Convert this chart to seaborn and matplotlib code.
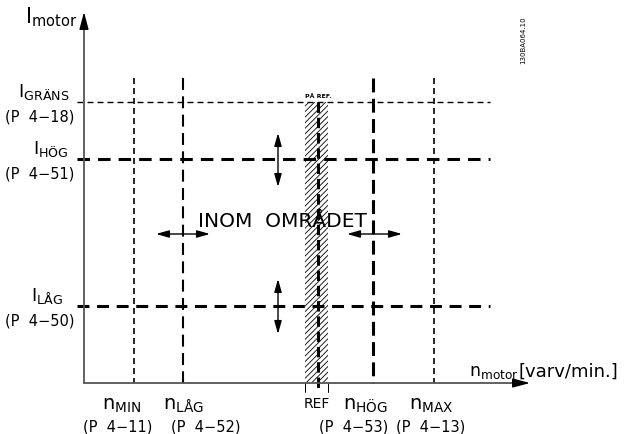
import matplotlib
matplotlib.use('Agg')
import matplotlib.pyplot as plt
import seaborn as sns

# speed positions along the n axis (arbitrary diagram units, origin at the axis corner)
speed_names = ['MIN', 'LÅG', 'HÖG', 'MAX']
speed_pos = [50, 99, 289, 350]
speed_params = ['(P  4−11)', '(P  4−52)', '(P  4−53)', '(P  4−13)']
ref_pos = 234
ref_band = [221, 244]

# current levels along the I axis
current_names = ['GRÄNS', 'HÖG', 'LÅG']
current_pos = [281, 224, 77]
current_params = ['(P  4−18)', '(P  4−51)', '(P  4−50)']

# arrows showing the allowed range around the limits
h_arrow_spans = [(72, 126), (263, 318)]
v_arrow_spans = [(196, 250), (49, 104)]

sns.set_theme(style='white')
plt.rcParams['font.family'] = ['DejaVu Sans']
plt.rcParams['text.color'] = 'black'
plt.rcParams['lines.scale_dashes'] = False
plt.rcParams['hatch.linewidth'] = 0.6

fig = plt.figure(figsize=(6.33, 4.35), dpi=100)
ax = fig.add_axes([0, 0, 1, 1])
ax.set_xlim(-84, 549)
ax.set_ylim(-51, 384)
ax.axis('off')

# line styles (width in pt, dash pattern in pt)
speed_lw = [1.2, 1.5, 2.2, 1.2]
speed_dash = [(4.3, 2.9), (8.6, 4.6), (10, 4.6), (4.3, 2.9)]
current_lw = [1.0, 2.2, 2.2]
current_dash = [(4.3, 2.9), (9, 5.8), (8.6, 5.5)]

# hatched "on reference" band
ax.fill_betweenx([0, current_pos[0]], ref_band[0], ref_band[1],
                 facecolor='white', edgecolor='black', hatch='//////', linewidth=0, zorder=1)
for xb in ref_band:
    ax.plot([xb, xb], [0, -9], color='black', lw=0.7, zorder=3)
ax.plot([ref_pos, ref_pos], [281, -9], color='black', lw=2.2,
        linestyle=(0, (7.5, 3.5)), zorder=3)
ax.text(ref_pos, 287, 'PÅ REF.', ha='center', va='center', fontsize=4.5, fontweight='bold')

for x, lw, ds in zip(speed_pos, speed_lw, speed_dash):
    ax.plot([x, x], [305, 0], color='black', lw=lw, linestyle=(0, ds), zorder=2)
for y, lw, ds in zip(current_pos, current_lw, current_dash):
    ax.plot([-7, 406], [y, y], color='black', lw=lw, linestyle=(0, ds), zorder=2)

# axes with arrow heads
ax.plot([0, 0], [0, 358], color='#555555', lw=1.3, zorder=4)
ax.plot([0, 432], [0, 0], color='#555555', lw=1.3, zorder=4)
head = dict(arrowstyle='-|>,head_length=0.75,head_width=0.2', color='black',
            lw=1.0, mutation_scale=14, shrinkA=0, shrinkB=0)
ax.annotate('', xy=(0, 371), xytext=(0, 355), arrowprops=head, zorder=5)
ax.annotate('', xy=(446, 0), xytext=(430, 0), arrowprops=head, zorder=5)

dbl = dict(arrowstyle='<|-|>,head_length=0.6,head_width=0.17', color='black',
           lw=1.0, mutation_scale=13, shrinkA=0, shrinkB=0)
for x0, x1 in h_arrow_spans:
    ax.annotate('', xy=(x0, 149), xytext=(x1, 149), arrowprops=dbl)
for y0, y1 in v_arrow_spans:
    ax.annotate('', xy=(194, y0), xytext=(194, y1), arrowprops=dbl)

ax.text(198, 162, 'INOM  OMRÅDET', ha='center', va='center', fontsize=14.5, zorder=6)

# axis titles
ax.text(-7, 355, r'$\mathregular{I_{motor}}$', ha='right', va='bottom', fontsize=15)
ax.text(385, 3, r'$\mathregular{n_{motor}}$', ha='left', va='bottom', fontsize=12.5)
ax.text(435, 3, '[varv/min.]', ha='left', va='bottom', fontsize=13)

# current labels
label_right = [-15, -15, -21]
for y, name, par, xr in zip(current_pos, current_names, current_params, label_right):
    ax.text(xr, y + 1, r'$\mathregular{I_{%s}}$' % name, ha='right', va='bottom', fontsize=13)
    ax.text(-44, y - 14, par, ha='center', va='center', fontsize=10.5)

# speed labels
name_x = [38, 99, 281, 347]
par_x = [34, 122, 270, 347]
for nx, px_, name, par in zip(name_x, par_x, speed_names, speed_params):
    ax.text(nx, -31, r'$\mathregular{n_{%s}}$' % name, ha='center', va='bottom', fontsize=14)
    ax.text(px_, -43, par, ha='center', va='center', fontsize=10.5)
ax.text(ref_pos - 1, -20, 'REF', ha='center', va='center', fontsize=10)

ax.text(439, 344, '130BA064.10', rotation=90, ha='center', va='center', fontsize=5)

fig.savefig('out.png', dpi=100)
